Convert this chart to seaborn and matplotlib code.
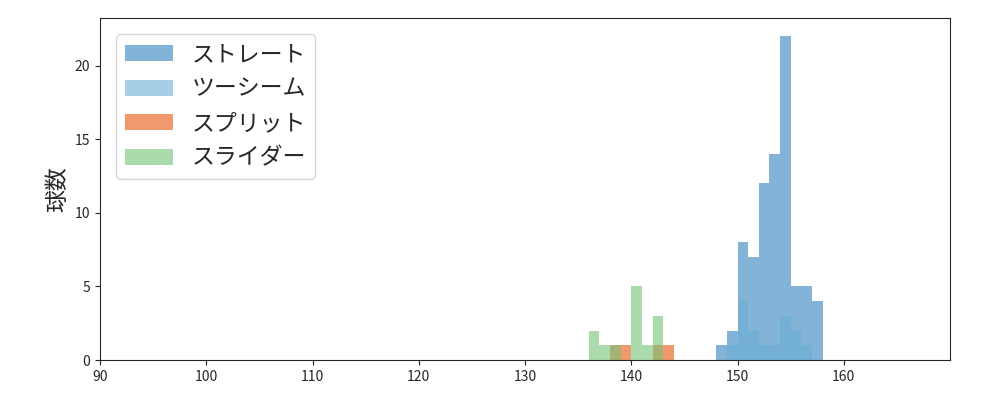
import numpy as np
import pandas as pd
import matplotlib
matplotlib.use('Agg')
import matplotlib.pyplot as plt
import seaborn as sns

# 球速(km/h)ごとの球数
straight_speed = [148, 149, 150, 151, 152, 153, 154, 155, 156, 157]
straight_count = [1, 2, 8, 7, 12, 14, 22, 5, 5, 4]

twoseam_speed = [149, 150, 151, 152, 153, 154, 155, 156]
twoseam_count = [1, 4, 2, 1, 1, 3, 2, 1]

split_speed = [138, 139, 142, 143]
split_count = [1, 1, 1, 1]

slider_speed = [136, 137, 138, 140, 141, 142]
slider_count = [2, 1, 1, 5, 1, 3]

labels = ['ストレート', 'ツーシーム', 'スプリット', 'スライダー']
colors = ['#3182bd', '#6baed6', '#e6550d', '#74c476']

sns.set_style('ticks')
plt.rcParams['font.family'] = ['Noto Sans CJK JP', 'DejaVu Sans']

fig, ax = plt.subplots(figsize=(10, 4), dpi=100)
fig.subplots_adjust(left=0.1, right=0.95, top=0.955, bottom=0.1)

series = [(straight_speed, straight_count), (twoseam_speed, twoseam_count),
          (split_speed, split_count), (slider_speed, slider_count)]
for (sp, ct), lab, col in zip(series, labels, colors):
    df = pd.DataFrame({'speed': np.array(sp) + 0.5, 'count': ct})
    sns.histplot(data=df, x='speed', weights='count', binwidth=1,
                 binrange=(min(sp), max(sp) + 1), color=col,
                 alpha=0.6, linewidth=0, label=lab, ax=ax)

ax.set_xlim(90, 170)
ax.set_ylim(0, 23.25)
ax.set_xticks(np.arange(90, 170, 10))
ax.set_yticks([0, 5, 10, 15, 20])
ax.tick_params(labelsize=10)
ax.set_xlabel('')
ax.set_ylabel('球数', fontsize=16.5)
ax.legend(loc='upper left', fontsize=16.5, handlelength=2.1,
          borderaxespad=0.7)

plt.savefig('out.png')
